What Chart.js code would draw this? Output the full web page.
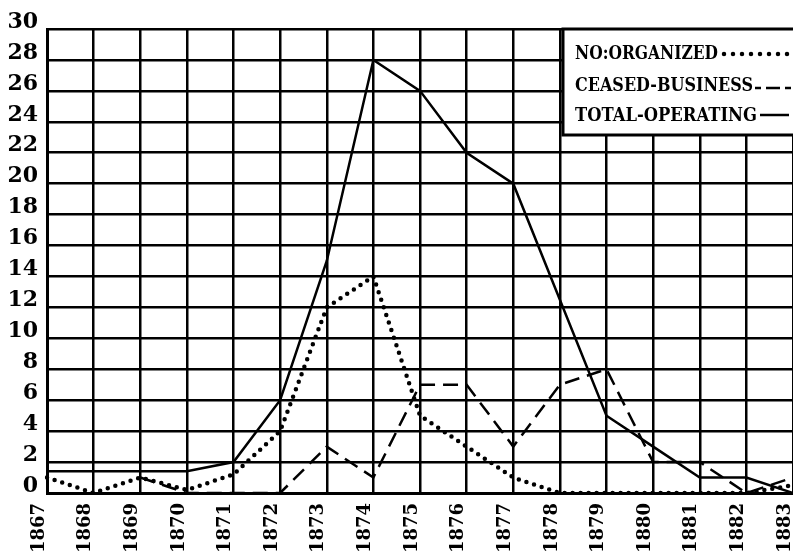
<!DOCTYPE html>
<html>
<head>
<meta charset="utf-8">
<script src="https://cdn.jsdelivr.net/npm/chart.js@4.4.1/dist/chart.umd.min.js"></script>
<style>
  body { margin: 0; background: #fff; }
  canvas { display: block; }
</style>
</head>
<body>
<canvas id="grafica" width="793" height="554"></canvas>
<script>
// years on the x axis
var anios = ['1867','1868','1869','1870','1871','1872','1873','1874','1875','1876','1877','1878','1879','1880','1881','1882','1883'];
// values
var organizados = [1, 0, 1, 0.2, 1.2, 4, 12, 14, 5, 3, 1, 0, 0, 0, 0, 0, 0.5];
var cerrados    = [null, null, 1, 0, 0, 0, 3, 1, 7, 7, 3, 7, 8, 2, 2, 0, 1];
var operando    = [1.4, 1.4, 1.4, 1.4, 2, 6, 15, 28, 26, 22, 20, 12.5, 5, 3, 1, 1, 0];
var etiquetas   = ['NO:ORGANIZED', 'CEASED-BUSINESS', 'TOTAL-OPERATING'];

var fondoBlanco = {
	id: 'fondoBlanco',
	beforeDraw: function(chart) {
		var ctx = chart.ctx;
		ctx.save();
		ctx.fillStyle = '#fff';
		ctx.fillRect(0, 0, chart.width, chart.height);
		ctx.restore();
	}
};

// legend box drawn over the grid, top right
var leyenda = {
	id: 'leyenda',
	afterDatasetsDraw: function(chart) {
		var ctx = chart.ctx;
		var area = chart.chartArea;
		var x0 = 563, y0 = area.top;
		ctx.save();
		ctx.fillStyle = '#fff';
		ctx.fillRect(x0, y0, chart.width - x0 + 5, 106);
		ctx.strokeStyle = '#000';
		ctx.lineWidth = 3;
		ctx.strokeRect(x0, y0, chart.width - x0 + 5, 106);

		var filas = [53, 85, 115];
		var anchos = [143, 178, 182];
		ctx.fillStyle = '#000';
		ctx.font = 'bold 19px "DejaVu Serif"';
		ctx.textBaseline = 'middle';
		for (var i = 0; i < etiquetas.length; i++) {
			var w = ctx.measureText(etiquetas[i]).width;
			ctx.save();
			ctx.translate(575, filas[i]);
			ctx.scale(anchos[i] / w, 1);
			ctx.fillText(etiquetas[i], 0, 1);
			ctx.restore();
		}

		// line samples
		ctx.strokeStyle = '#000';
		ctx.lineWidth = 4.5;
		ctx.lineCap = 'round';
		ctx.setLineDash([0, 9]);
		ctx.beginPath(); ctx.moveTo(724, 54); ctx.lineTo(790, 54); ctx.stroke();

		ctx.lineCap = 'butt';
		ctx.lineWidth = 2.5;
		ctx.setLineDash([6, 5, 14, 5, 6]);
		ctx.beginPath(); ctx.moveTo(755, 88); ctx.lineTo(793, 88); ctx.stroke();

		ctx.setLineDash([]);
		ctx.beginPath(); ctx.moveTo(760, 115); ctx.lineTo(789, 115); ctx.stroke();
		ctx.restore();
	}
};

var ctx = document.getElementById('grafica').getContext('2d');
var chart = new Chart(ctx, {
	type: 'line',
	data: {
		labels: anios,
		datasets: [{
			label: etiquetas[0],
			data: organizados,
			borderColor: '#000',
			borderWidth: 4.5,
			borderDash: [0, 8],
			borderCapStyle: 'round',
			pointRadius: 0,
			fill: false
		}, {
			label: etiquetas[1],
			data: cerrados,
			borderColor: '#000',
			borderWidth: 2.5,
			borderDash: [15, 8],
			pointRadius: 0,
			fill: false
		}, {
			label: etiquetas[2],
			data: operando,
			borderColor: '#000',
			borderWidth: 2.5,
			pointRadius: 0,
			fill: false
		}]
	},
	options: {
		responsive: false,
		animation: false,
		layout: { padding: { top: 29, left: 0, right: 0, bottom: 0 } },
		plugins: {
			legend: { display: false },
			tooltip: { enabled: false }
		},
		scales: {
			x: {
				offset: false,
				grid: { color: '#000', lineWidth: 2.5, drawTicks: false },
				border: { color: '#000', width: 3 },
				ticks: {
					color: '#000',
					font: { family: '"DejaVu Serif"', weight: 'bold', size: 18 },
					minRotation: 90,
					maxRotation: 90,
					autoSkip: false,
					labelOffset: -8,
					padding: 10
				},
				afterFit: function(scale) {
					scale.height = 61;
					scale.paddingLeft = 0;
					scale.paddingRight = 0;
				}
			},
			y: {
				min: 0,
				max: 30,
				grid: { color: '#000', lineWidth: 2.5, drawTicks: false },
				border: { color: '#000', width: 3 },
				ticks: {
					stepSize: 2,
					color: '#000',
					font: { family: '"DejaVu Serif"', weight: 'bold', size: 22 },
					labelOffset: -7,
					padding: 9
				},
				afterFit: function(scale) {
					scale.width = 47;
				}
			}
		}
	},
	plugins: [fondoBlanco, leyenda]
});
</script>
</body>
</html>
